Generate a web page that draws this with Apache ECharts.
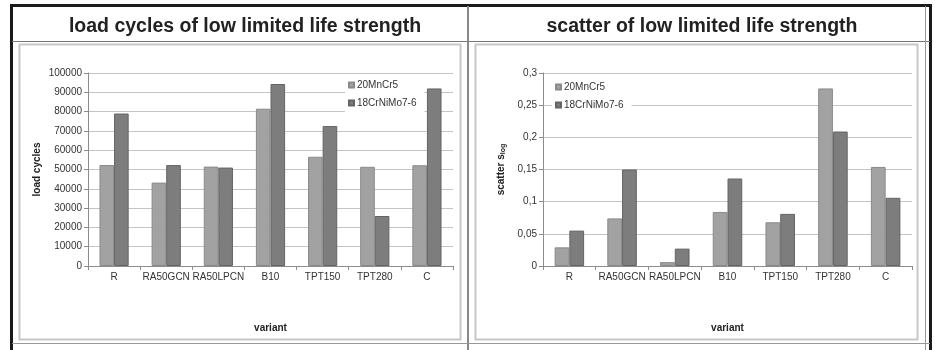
<!DOCTYPE html>
<html>
<head>
<meta charset="utf-8">
<script src="https://cdn.jsdelivr.net/npm/echarts@6/dist/echarts.min.js"></script>
<style>
  html, body { margin: 0; padding: 0; background: #fff; }
  #chart { width: 935px; height: 350px; }
</style>
</head>
<body>
<div id="chart"></div>
<script>
// Variants tested
const variants = ['R', 'RA50GCN', 'RA50LPCN', 'B10', 'TPT150', 'TPT280', 'C'];
const materials = ['20MnCr5', '18CrNiMo7-6'];

// Load cycles at low limited life strength
const cycles20MnCr5 = [52300, 43200, 51500, 81500, 56600, 51400, 52200];
const cycles18CrNiMo = [79000, 52300, 51000, 94300, 72500, 25900, 92000];

// Scatter s_log of low limited life strength
const scatter20MnCr5 = [0.029, 0.074, 0.006, 0.084, 0.068, 0.276, 0.154];
const scatter18CrNiMo = [0.055, 0.150, 0.027, 0.136, 0.081, 0.209, 0.106];

// Axis ticks
const cyclesMax = 100000, cyclesStep = 10000;
const scatterMax = 0.3, scatterStep = 0.05;

const titles = ['load cycles of low limited life strength', 'scatter of low limited life strength'];

const FONT = '"Liberation Sans", Arial, sans-serif';
const LIGHT = '#a2a2a2', LIGHT_EDGE = '#8a8a8a';
const DARK = '#7d7d7d', DARK_EDGE = '#646464';

const chart = echarts.init(document.getElementById('chart'), null, { renderer: 'canvas' });

function commaNum(v) {
  return String(+(+v).toFixed(2)).replace('.', ',');
}
function plainNum(v) {
  return String(Math.round(v));
}

function xAxisFor(gridIndex) {
  return {
    type: 'category', gridIndex, data: variants,
    name: 'variant', nameLocation: 'middle', nameGap: 57,
    nameTextStyle: { fontFamily: FONT, fontSize: 10, fontWeight: 'bold', color: '#222' },
    axisLine: { lineStyle: { color: '#8c8c8c', width: 1 } },
    axisTick: { show: true, length: 4, lineStyle: { color: '#8c8c8c' } },
    axisLabel: { fontFamily: FONT, fontSize: 10, color: '#333', margin: 6, interval: 0 }
  };
}

function barSeries(name, data, xi, color, edge) {
  return {
    type: 'bar', name, data, xAxisIndex: xi, yAxisIndex: xi,
    barGap: '0%', barCategoryGap: '44%',
    itemStyle: { color, borderColor: edge, borderWidth: 1 },
    emphasis: { disabled: true }, animation: false
  };
}

const legendBase = {
  orient: 'vertical', icon: 'rect', itemWidth: 5, itemHeight: 5, itemGap: 8,
  backgroundColor: '#fff', padding: [4, 8, 4, 3],
  textStyle: { fontFamily: FONT, fontSize: 10, color: '#333', padding: [0, 0, 0, -2] },
  data: materials
};

const titleStyle = { fontFamily: FONT, fontSize: 19.5, fontWeight: 'bold', color: '#222' };

const option = {
  animation: false,
  title: [
    { text: titles[0], left: 240, top: 12, textAlign: 'center', textStyle: titleStyle },
    { text: titles[1], left: 697, top: 12, textAlign: 'center', textStyle: titleStyle }
  ],
  graphic: [
    // outer table frame
    { type: 'rect', shape: { x: 11.5, y: 5.5, width: 919, height: 350 }, silent: true, z: 0,
      style: { fill: null, stroke: '#1a1a1a', lineWidth: 3 } },
    // title row divider
    { type: 'line', shape: { x1: 12, y1: 41.5, x2: 930, y2: 41.5 }, silent: true,
      style: { stroke: '#777', lineWidth: 1 } },
    // column divider
    { type: 'line', shape: { x1: 468, y1: 6, x2: 468, y2: 350 }, silent: true,
      style: { stroke: '#888', lineWidth: 2 } },
    // inner right edge line
    { type: 'line', shape: { x1: 925.5, y1: 6, x2: 925.5, y2: 350 }, silent: true,
      style: { stroke: '#999', lineWidth: 1 } },
    // bottom cell line
    { type: 'line', shape: { x1: 12, y1: 343.5, x2: 930, y2: 343.5 }, silent: true,
      style: { stroke: '#999', lineWidth: 1 } },
    // chart area frames
    { type: 'rect', shape: { x: 19.5, y: 44.5, width: 441, height: 295 }, silent: true,
      style: { fill: null, stroke: '#c8c8c8', lineWidth: 2 } },
    { type: 'rect', shape: { x: 475.5, y: 44.5, width: 442, height: 295 }, silent: true,
      style: { fill: null, stroke: '#c8c8c8', lineWidth: 2 } }
  ],
  grid: [
    { left: 88, right: 482, top: 73, bottom: 84 },
    { left: 543, right: 23, top: 73, bottom: 84 }
  ],
  legend: [
    Object.assign({}, legendBase, { left: 345, top: 76 }),
    Object.assign({}, legendBase, { left: 552, top: 78 })
  ],
  xAxis: [xAxisFor(0), xAxisFor(1)],
  yAxis: [
    {
      type: 'value', gridIndex: 0, min: 0, max: cyclesMax, interval: cyclesStep,
      name: 'load cycles', nameLocation: 'middle', nameGap: 46,
      nameTextStyle: { fontFamily: FONT, fontSize: 10, fontWeight: 'bold', color: '#222' },
      axisLine: { show: true, lineStyle: { color: '#8c8c8c' } },
      axisTick: { show: true, length: 4, lineStyle: { color: '#8c8c8c' } },
      axisLabel: { fontFamily: FONT, fontSize: 10, color: '#333', margin: 6, formatter: plainNum },
      splitLine: { lineStyle: { color: '#c4c4c4', width: 1 } }
    },
    {
      type: 'value', gridIndex: 1, min: 0, max: scatterMax, interval: scatterStep,
      name: 'scatter s{sub|log}', nameLocation: 'middle', nameGap: 36,
      nameTextStyle: { fontFamily: FONT, fontSize: 10, fontWeight: 'bold', color: '#222',
        rich: { sub: { fontFamily: FONT, fontSize: 7, fontWeight: 'bold', color: '#222', verticalAlign: 'bottom', padding: [4, 0, 0, 0] } } },
      axisLine: { show: true, lineStyle: { color: '#8c8c8c' } },
      axisTick: { show: true, length: 4, lineStyle: { color: '#8c8c8c' } },
      axisLabel: { fontFamily: FONT, fontSize: 10, color: '#333', margin: 6, formatter: commaNum },
      splitLine: { lineStyle: { color: '#c4c4c4', width: 1 } }
    }
  ],
  series: [
    barSeries(materials[0], cycles20MnCr5, 0, LIGHT, LIGHT_EDGE),
    barSeries(materials[1], cycles18CrNiMo, 0, DARK, DARK_EDGE),
    barSeries(materials[0], scatter20MnCr5, 1, LIGHT, LIGHT_EDGE),
    barSeries(materials[1], scatter18CrNiMo, 1, DARK, DARK_EDGE)
  ]
};

chart.setOption(option);
</script>
</body>
</html>
